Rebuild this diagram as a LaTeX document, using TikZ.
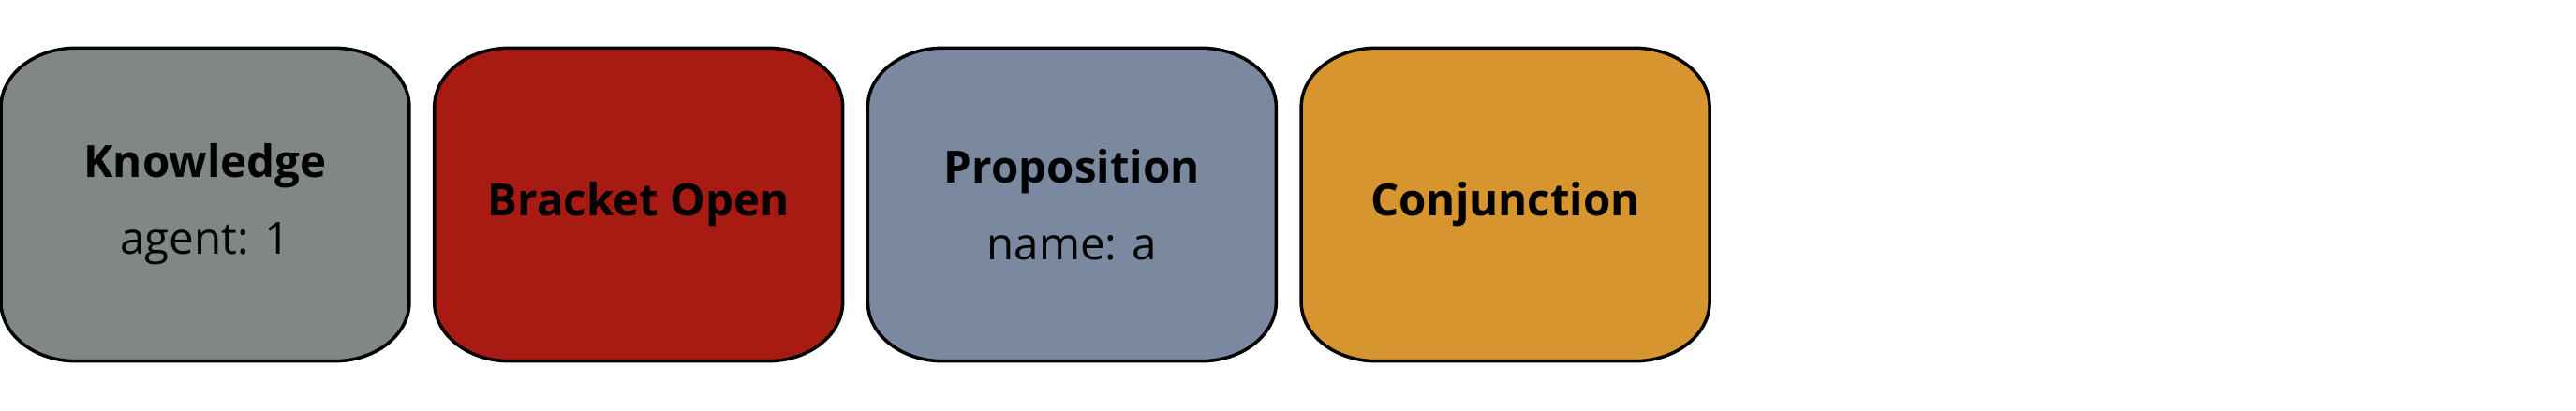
\documentclass[tikz,border=0pt]{standalone}
\usepackage{fontspec}
\setmainfont{Open Sans}
\usepackage{tikz}
\pgfdeclarelayer{bg}
\pgfsetlayers{bg,main}
\definecolor{knowgray}{RGB}{128,135,132}
\definecolor{openred}{RGB}{168,27,18}
\definecolor{propblue}{RGB}{122,137,160}
\definecolor{conjorange}{RGB}{214,149,46}
\tikzset{
    every node/.style={rectangle, inner sep=0mm, minimum width=4.345cm, minimum height=3.33cm, align=center, font=\fontsize{13.5}{23.3}\selectfont}
}
\tikzset{box line/.style={line width=1pt, draw=black}}

\begin{document}
\begin{tikzpicture}
        \useasboundingbox (0cm, 0cm) rectangle (27.5cm, 4.38cm);
        \node (b0) at (2.190000cm, 2.195000cm) {\textbf{Knowledge}\\agent: 1};
        \node (b1) at (6.817000cm, 2.195000cm) {\textbf{Bracket Open}};
        \node (b2) at (11.444000cm, 2.195000cm) {\textbf{Proposition}\\name: a};
        \node (b3) at (16.071000cm, 2.195000cm) {\textbf{Conjunction}};
        \begin{pgfonlayer}{bg}
                \foreach \b/\c in {b0/knowgray, b1/openred, b2/propblue, b3/conjorange}
                        \draw [box line, fill=\c] ([xshift=0.8cm]\b.north west) -- ([xshift=-0.8cm]\b.north east)
                                arc [start angle=90, end angle=0, x radius=0.8cm, y radius=0.63cm]
                                -- ([yshift=0.63cm]\b.south east)
                                arc [start angle=0, end angle=-90, x radius=0.8cm, y radius=0.63cm]
                                -- ([xshift=0.8cm]\b.south west)
                                arc [start angle=-90, end angle=-180, x radius=0.8cm, y radius=0.63cm]
                                -- ([yshift=-0.63cm]\b.north west)
                                arc [start angle=180, end angle=90, x radius=0.8cm, y radius=0.63cm] -- cycle;
        \end{pgfonlayer}
\end{tikzpicture}
\end{document}
